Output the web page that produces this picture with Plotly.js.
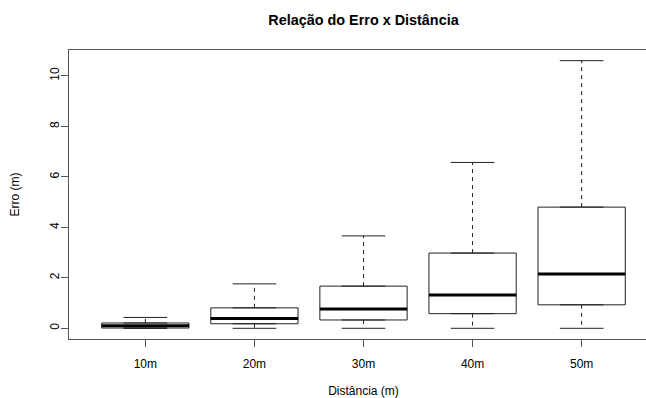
<!DOCTYPE html>
<html>
<head>
<meta charset="utf-8">
<script src="https://cdn.plot.ly/plotly-3.0.1.min.js"></script>
<style>
html, body { margin:0; padding:0; overflow:hidden; background:#fff; }
#chart { width:659px; height:398px; }
</style>
</head>
<body>
<div id="chart"></div>
<script>
// Data
const categories = ['10m', '20m', '30m', '40m', '50m'];
const positions  = [1, 2, 3, 4, 5];
const minVals    = [0, 0, 0, 0, 0];
const q1Vals     = [0.01, 0.18, 0.33, 0.58, 0.93];
const medianVals = [0.10, 0.39, 0.76, 1.32, 2.15];
const q3Vals     = [0.21, 0.81, 1.67, 2.98, 4.80];
const maxVals    = [0.43, 1.76, 3.66, 6.57, 10.60];
const yTicks     = [0, 2, 4, 6, 8, 10];

const FONT = 'Liberation Sans, Arial, Helvetica, sans-serif';
const LINE = '#222';
const BOXW = 0.8, STAPLEW = 0.4;

function segs(xs1, xs2, ys1, ys2) {
  const x = [], y = [];
  for (let i = 0; i < xs1.length; i++) {
    x.push(xs1[i], xs2[i], null);
    y.push(ys1[i], ys2[i], null);
  }
  return {x, y};
}

const boxes = {
  type: 'box',
  x: positions,
  q1: q1Vals, median: medianVals, q3: q3Vals,
  lowerfence: q1Vals, upperfence: q3Vals,
  width: BOXW,
  fillcolor: '#ffffff',
  line: {color: LINE, width: 1},
  boxpoints: false,
  hoverinfo: 'skip',
  showlegend: false
};

const upW = segs(positions, positions, q3Vals, maxVals);
const loW = segs(positions, positions, q1Vals, minVals);
const whiskers = {
  type: 'scatter', mode: 'lines',
  x: upW.x.concat(loW.x), y: upW.y.concat(loW.y),
  line: {color: LINE, width: 1, dash: '4px,4px'},
  hoverinfo: 'skip', showlegend: false
};

const left = positions.map(p => p - STAPLEW / 2);
const right = positions.map(p => p + STAPLEW / 2);
const stTop = segs(left, right, maxVals, maxVals);
const stBot = segs(left, right, minVals, minVals);
const staples = {
  type: 'scatter', mode: 'lines',
  x: stTop.x.concat(stBot.x), y: stTop.y.concat(stBot.y),
  line: {color: LINE, width: 1},
  hoverinfo: 'skip', showlegend: false
};

const mL = positions.map(p => p - BOXW / 2);
const mR = positions.map(p => p + BOXW / 2);
const med = segs(mL, mR, medianVals, medianVals);
const medians = {
  type: 'scatter', mode: 'lines',
  x: med.x, y: med.y,
  line: {color: '#000', width: 3},
  hoverinfo: 'skip', showlegend: false
};

const layout = {
  width: 659, height: 398,
  margin: {l: 69, r: 1, t: 50, b: 59},
  paper_bgcolor: '#fff', plot_bgcolor: '#fff',
  font: {family: FONT, size: 12, color: '#000'},
  title: {
    text: 'Relação do Erro x Distância',
    font: {family: FONT, size: 14.4, weight: 'bold', color: '#000'},
    x: 0.5, xref: 'paper', xanchor: 'center',
    y: 1 - 20 / 398, yref: 'container', yanchor: 'middle'
  },
  xaxis: {
    range: [0.3, 5.7],
    tickmode: 'array', tickvals: positions, ticktext: categories,
    ticks: 'outside', ticklen: 7, tickcolor: '#555', tickwidth: 1,
    ticklabelstandoff: 7,
    showline: true, mirror: true, linecolor: '#555', linewidth: 1,
    showgrid: false, zeroline: false,
    tickfont: {family: FONT, size: 12, color: '#000'},
    title: {text: 'Distância (m)', font: {family: FONT, size: 12, color: '#000'}, standoff: 18}
  },
  yaxis: {
    range: [-0.424, 11.024],
    tickmode: 'array', tickvals: yTicks, ticktext: yTicks.map(String),
    tickangle: -90,
    ticks: 'outside', ticklen: 7, tickcolor: '#555', tickwidth: 1,
    ticklabelstandoff: -3,
    showline: true, mirror: true, linecolor: '#555', linewidth: 1,
    showgrid: false, zeroline: false,
    tickfont: {family: FONT, size: 12, color: '#000'},
    title: {text: 'Erro (m)', font: {family: FONT, size: 12, color: '#000'}, standoff: 26}
  }
};

Plotly.newPlot('chart', [boxes, whiskers, staples, medians], layout, {displayModeBar: false, staticPlot: true});
</script>
</body>
</html>
